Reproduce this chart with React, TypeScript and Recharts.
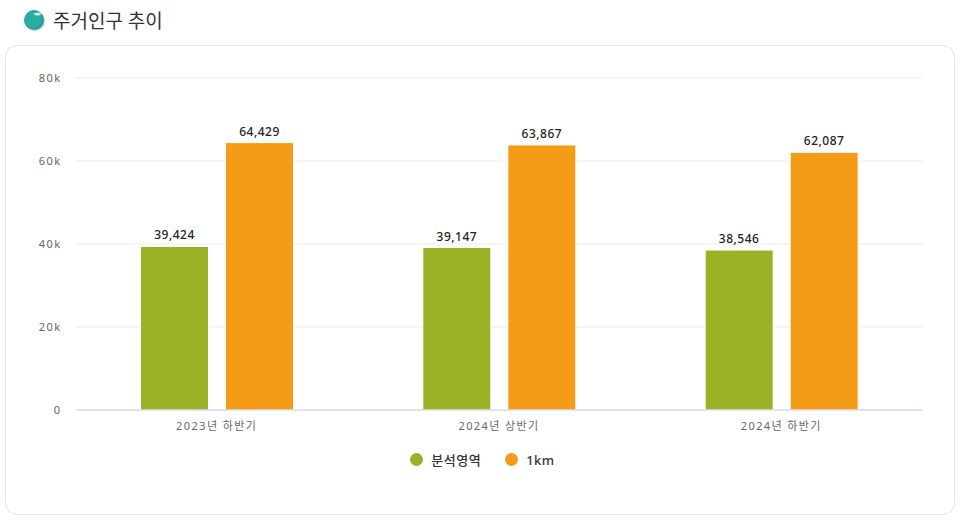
import { BarChart, Bar, XAxis, YAxis, CartesianGrid, Legend, LabelList } from "recharts";

const PERIODS = ["2023년 하반기", "2024년 상반기", "2024년 하반기"];
const AREA_VALUES = [39424, 39147, 38546];
const KM_VALUES = [64429, 63867, 62087];
const Y_TICKS = [0, 20000, 40000, 60000, 80000];

const FONT = "'Noto Sans', 'Noto Sans CJK KR', sans-serif";

const chartData = PERIODS.map((period, i) => ({
  period,
  area: AREA_VALUES[i],
  km: KM_VALUES[i],
}));

const formatK = (v: number) => (v === 0 ? "0" : `${v / 1000}k`);
const formatValue = (v: number) => v.toLocaleString("en-US");

const labelStyle = { fontSize: 12, fontWeight: 500, fill: "#222", fontFamily: FONT, letterSpacing: 0.5 };
const tickStyle = { fontSize: 11, fill: "#666", fontFamily: FONT, letterSpacing: 1.4 };

// legend drawn in series order, reference keeps the green one first
function ChartLegend() {
  const items = [
    { name: "분석영역", color: "#9bb125" },
    { name: "1km", color: "#f49c18" },
  ];
  return (
    <div style={{ display: "flex", justifyContent: "center", alignItems: "center", gap: 24, fontFamily: FONT }}>
      {items.map((item) => (
        <div key={item.name} style={{ display: "flex", alignItems: "center", gap: 8 }}>
          <span style={{ width: 13, height: 13, borderRadius: "50%", background: item.color, display: "inline-block" }} />
          <span style={{ fontSize: 13, fontWeight: 500, color: "#333", letterSpacing: 0.5 }}>{item.name}</span>
        </div>
      ))}
    </div>
  );
}

export default function App() {
  return (
    <div style={{ position: "absolute", left: 0, top: 0, width: 966, height: 525, background: "#fff", fontFamily: FONT, overflow: "hidden" }}>
      <div
        style={{
          position: "absolute",
          left: 24,
          top: 10,
          width: 20,
          height: 20,
          borderRadius: "50%",
          boxShadow: "1px 1px 1px #c4c4c4",
          background:
            "radial-gradient(ellipse 5px 2px at 68% 20%, #e4fbf9 30%, transparent 100%), radial-gradient(circle at 45% 48%, #2aaca5 50%, #1b8884 78%, #126462 100%)",
        }}
      />
      <div style={{ position: "absolute", left: 53, top: 8, fontSize: 19, lineHeight: "26px", color: "#333" }}>주거인구 추이</div>
      <div
        style={{
          position: "absolute",
          left: 5,
          top: 45,
          width: 948,
          height: 468,
          border: "1px solid #e4e4e4",
          borderRadius: 12,
        }}
      />
      <div style={{ position: "absolute", left: -1, top: 0 }}>
        <BarChart
          width={966}
          height={525}
          data={chartData}
          margin={{ top: 78, right: 42.5, bottom: 65, left: 0 }}
          barSize={68}
          barGap={17}
        >
          <CartesianGrid vertical={false} stroke="#e9ecf0" />
          <XAxis
            dataKey="period"
            tickLine={false}
            axisLine={{ stroke: "#ccd0f0" }}
            tick={tickStyle}
            tickMargin={6}
            height={30}
          />
          <YAxis
            domain={[0, 80000]}
            ticks={Y_TICKS}
            tickFormatter={formatK}
            tickLine={false}
            axisLine={false}
            width={76.5}
            tick={tickStyle}
            tickMargin={8}
          />
          <Legend
            content={<ChartLegend />}
            wrapperStyle={{ position: "absolute", top: 450, left: 0, width: 967, height: 20 }}
          />
          <Bar dataKey="area" name="분석영역" fill="#9bb125" stroke="#fff" isAnimationActive={false}>
            <LabelList dataKey="area" position="top" offset={7} formatter={formatValue} style={labelStyle} />
          </Bar>
          <Bar dataKey="km" name="1km" fill="#f49c18" stroke="#fff" isAnimationActive={false}>
            <LabelList dataKey="km" position="top" offset={7} formatter={formatValue} style={labelStyle} />
          </Bar>
        </BarChart>
      </div>
    </div>
  );
}
